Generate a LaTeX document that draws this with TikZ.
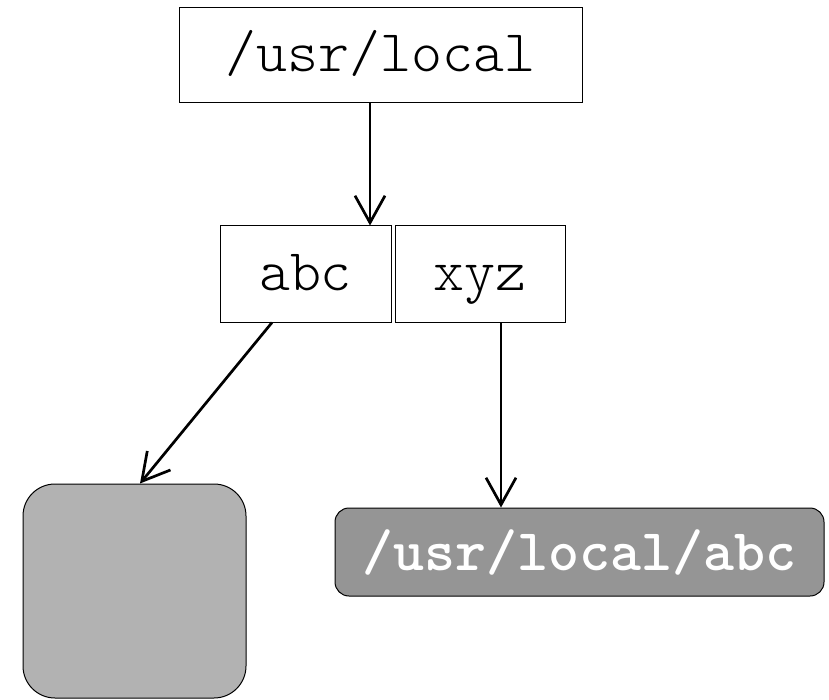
\documentclass[tikz,border=0pt]{standalone}
\usepackage{fontspec}
\setmonofont{Latin Modern Mono Light}
\usetikzlibrary{arrows.meta}
\definecolor{lightbox}{HTML}{B2B2B2}
\definecolor{darkbox}{HTML}{959595}
\begin{document}
\begin{tikzpicture}[x=1pt,y=-1pt,
  dirbox/.style={draw=black,line width=1pt,fill=white,inner sep=0pt,
    text height=40pt,text depth=7pt,
    font=\fontsize{59}{59}\selectfont\ttfamily},
  link/.style={line width=2.7pt,-{Straight Barb[length=27pt,width=30pt,line width=2.7pt]}}]
  \useasboundingbox (0,0) rectangle (829,700);
  % directory boxes
  \node[dirbox,minimum width=403pt,minimum height=95pt] (top) at (380.5,55.5) {/usr/local};
  \node[dirbox,minimum width=171pt,minimum height=96pt] (abc) at (305.5,274) {abc};
  \node[dirbox,minimum width=170pt,minimum height=96pt] (xyz) at (480,274) {xyz};
  % targets
  \node[draw=black,line width=1pt,fill=lightbox,rounded corners=32pt,
    minimum width=223pt,minimum height=214pt,inner sep=0pt] (blank) at (134.5,591) {};
  \node[draw=black,line width=1pt,fill=darkbox,rounded corners=14pt,
    minimum width=489pt,minimum height=88pt,inner sep=0pt,text=white,
    text height=43pt,text depth=7pt,
    font=\fontsize{59}{59}\selectfont\ttfamily\bfseries] (path) at (579.5,552) {/usr/local/abc};
  % links
  \draw[link] ([xshift=-10.5pt]top.south) -- ([xshift=64.5pt]abc.north);
  \draw[link] ([xshift=-33.5pt]abc.south) -- ([xshift=5.5pt]blank.north);
  \draw[link] ([xshift=21pt]xyz.south) -- ([xshift=-78.5pt]path.north);
\end{tikzpicture}
\end{document}
